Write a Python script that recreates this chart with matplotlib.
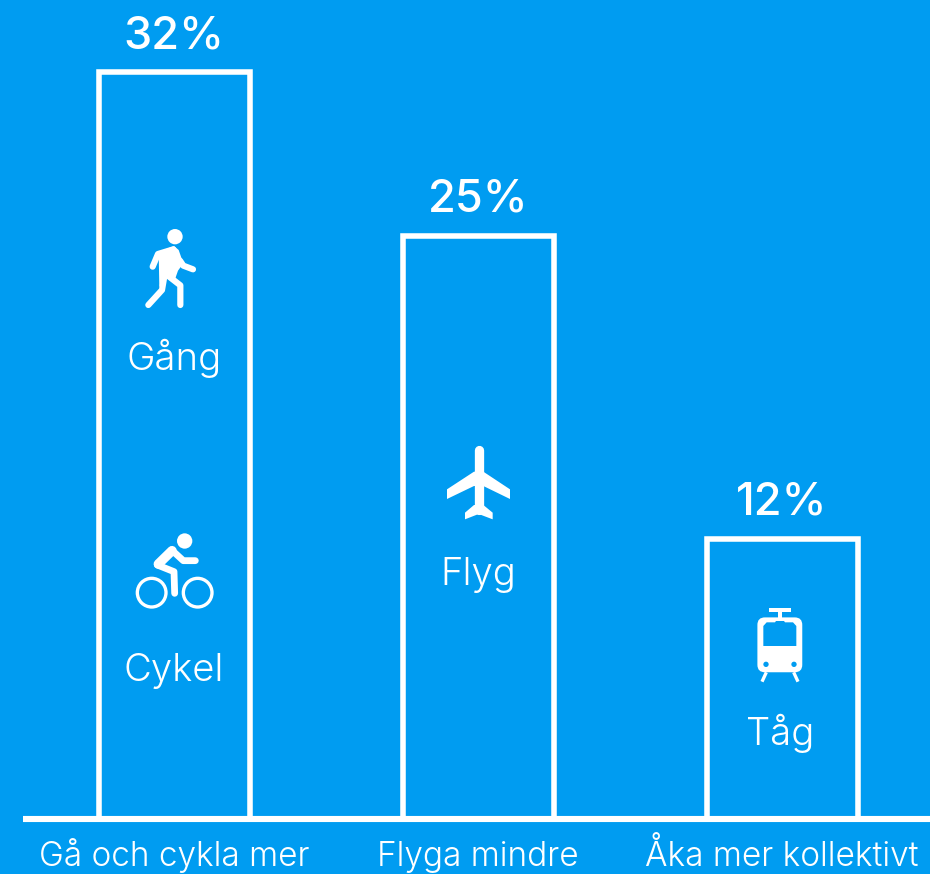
import matplotlib
matplotlib.use("Agg")
import matplotlib.pyplot as plt
from matplotlib.patches import Circle, Polygon, FancyBboxPatch, Rectangle

categories = ["Gå och cykla mer", "Flyga mindre", "Åka mer kollektivt"]
shares = [32, 25, 12]
value_labels = ["32%", "25%", "12%"]
mode_labels = ["Gång", "Cykel", "Flyg", "Tåg"]

BLUE = "#009CF1"
WHITE = "#FFFFFF"
FONT = ["Inter", "DejaVu Sans"]
W, H = 930, 874
BASE_PX, PX_PER_PCT, STEP_PX, FIRST_PX = 819, 23.33, 304, 174

fig = plt.figure(figsize=(W / 100, H / 100), dpi=100, facecolor=BLUE)

# Main axes: x in bar slots, y in percent, spanning the whole canvas
ax = fig.add_axes([0, 0, 1, 1])
ax.set_xlim(-FIRST_PX / STEP_PX, (W - FIRST_PX) / STEP_PX)
ax.set_ylim(-(H - BASE_PX) / PX_PER_PCT, BASE_PX / PX_PER_PCT)
ax.axis("off")

xs = list(range(len(categories)))
ax.bar([x + 0.4 / STEP_PX for x in xs], shares, width=151 / STEP_PX,
       facecolor="none", edgecolor=WHITE, linewidth=4.0, zorder=2)
ax.plot([(23 - FIRST_PX) / STEP_PX, (W - FIRST_PX) / STEP_PX], [0, 0],
        color=WHITE, linewidth=4.4, solid_capstyle="butt", zorder=3)

for x, v, lab, cat in zip(xs, shares, value_labels, categories):
    ax.annotate(lab, (x, v), xytext=(0, 26), textcoords="offset points",
                ha="center", va="center", color=WHITE, fontsize=32.5,
                fontweight=500, family=FONT)
    ax.annotate(cat, (x, 0), xytext=(0, -33.8), textcoords="offset points",
                ha="center", va="baseline", color=WHITE, fontsize=24,
                fontweight=300, family=FONT)

# Overlay in canvas pixels for the pictograms and their captions
ov = fig.add_axes([0, 0, 1, 1], facecolor="none")
ov.set_xlim(0, W)
ov.set_ylim(H, 0)
ov.axis("off")


def stroke(pts, ox, oy, lw, cap="round"):
    """Thick polyline given in 3x local units around an icon origin."""
    ov.plot([ox + p[0] / 3 for p in pts], [oy + p[1] / 3 for p in pts],
            color=WHITE, linewidth=lw * 0.72, solid_capstyle=cap,
            solid_joinstyle="round")


def blob(pts, ox, oy, color=WHITE):
    ov.add_patch(Polygon([(ox + p[0] / 3, oy + p[1] / 3) for p in pts],
                         closed=True, facecolor=color, edgecolor="none"))


def dot(cx, cy, r, ox, oy, face=WHITE, edge="none", lw=0):
    ov.add_patch(Circle((ox + cx / 3, oy + cy / 3), r / 3, facecolor=face,
                        edgecolor=edge, linewidth=lw))


# Walker
ox, oy = 100, 210
dot(225, 80, 23, ox, oy)
blob([(176, 126), (222, 108), (236, 120), (250, 160), (234, 182), (226, 205),
      (190, 205), (178, 232)], ox, oy)
stroke([(158, 170), (174, 132), (220, 118)], ox, oy, 6.2)
stroke([(240, 152), (250, 167), (279, 178)], ox, oy, 6.2)
stroke([(241, 285), (241, 226), (205, 198)], ox, oy, 6.2)
stroke([(145, 285), (186, 240), (198, 170)], ox, oy, 6.2)

# Cyclist
ox, oy = 100, 520
dot(254, 63, 23, ox, oy)
dot(155, 218, 43, ox, oy, face="none", edge=WHITE, lw=2.4)
dot(293, 218, 43, ox, oy, face="none", edge=WHITE, lw=2.4)
stroke([(215, 90), (250, 122), (286, 122)], ox, oy, 6.8)
stroke([(216, 92), (175, 132)], ox, oy, 9.5)
stroke([(172, 135), (222, 155), (224, 220)], ox, oy, 6.8)

# Aeroplane
ox, oy = 420, 430
stroke([(176, 60), (176, 240)], ox, oy, 9.3)
blob([(162, 125), (81, 178), (81, 207), (162, 168), (190, 168), (270, 207),
      (270, 178), (190, 125)], ox, oy)
blob([(162, 225), (135, 248), (135, 268), (176, 252), (218, 268), (218, 248),
      (190, 225)], ox, oy)

# Tram
ox, oy = 720, 590
ov.add_patch(Rectangle((ox + 148 / 3, oy + 54 / 3), 65 / 3, 11 / 3,
                       facecolor=WHITE, edgecolor="none"))
ov.add_patch(Rectangle((ox + 175 / 3, oy + 60 / 3), 12 / 3, 28 / 3,
                       facecolor=WHITE, edgecolor="none"))
ov.add_patch(FancyBboxPatch((ox + 132 / 3, oy + 102 / 3), 95 / 3, 125 / 3,
                            boxstyle="round,pad=6.6,rounding_size=7.5",
                            facecolor=WHITE, edgecolor="none"))
blob([(130, 168), (130, 108), (140, 97), (165, 97), (168, 93), (192, 93),
      (195, 97), (219, 97), (229, 108), (229, 168)], ox, oy, BLUE)
dot(138, 223, 8, ox, oy, face=BLUE)
dot(222, 223, 8, ox, oy, face=BLUE)
stroke([(139, 247), (126, 275)], ox, oy, 3.3, cap="butt")
stroke([(221, 247), (234, 275)], ox, oy, 3.3, cap="butt")

# Captions under each pictogram
caption_px = [(174, 358), (174, 671), (478, 575), (780, 733)]
for lab, (px, py) in zip(mode_labels, caption_px):
    ov.text(px, py, lab, ha="center", va="center", color=WHITE, fontsize=27.5,
            fontweight=300, family=FONT)

fig.savefig("out.png", dpi=100, facecolor=BLUE)
